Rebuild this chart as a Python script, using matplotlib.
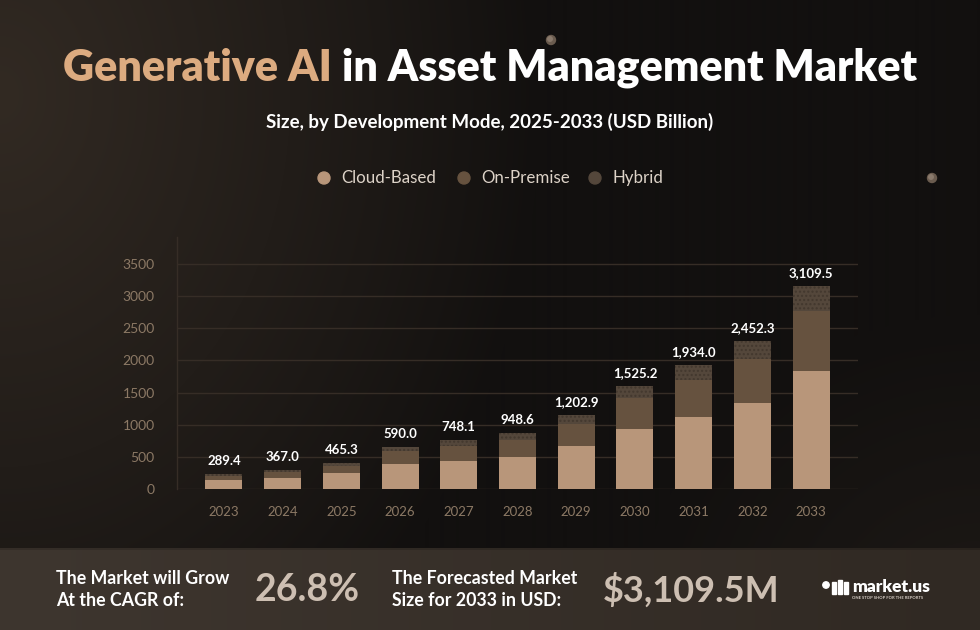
import numpy as np
import matplotlib
matplotlib.use("Agg")
import matplotlib.pyplot as plt
from matplotlib.patches import Circle, Rectangle

# ---------------- data ----------------
years = ["2023", "2024", "2025", "2026", "2027", "2028", "2029", "2030", "2031", "2032", "2033"]
cloud_based = [134, 176, 243, 383, 440, 502, 669, 938, 1125, 1342, 1840]
on_premise = [68, 93, 119, 213, 233, 260, 342, 471, 570, 674, 929]
hybrid = [31, 31, 47, 51, 89, 103, 140, 198, 238, 291, 382]
total_labels = ["289.4", "367.0", "465.3", "590.0", "748.1", "948.6",
                "1,202.9", "1,525.2", "1,934.0", "2,452.3", "3,109.5"]
y_ticks = [0, 500, 1000, 1500, 2000, 2500, 3000, 3500]
series_names = ["Cloud-Based", "On-Premise", "Hybrid"]

# ---------------- style ----------------
FONT = "Lato"
plt.rcParams["font.family"] = [FONT, "DejaVu Sans"]
c_cloud = "#b8967a"
c_onprem = "#66523f"
c_hybrid = "#54473b"
tick_col = "#8c7965"
grid_col = "#362d26"

W, H = 980, 630
fig = plt.figure(figsize=(W / 100, H / 100), dpi=100)

# ---------------- background ----------------
bg = fig.add_axes([0, 0, 1, 1], zorder=-10)
yy, xx = np.mgrid[0:H, 0:W]
xn = xx / W
yn = yy / H
dark = np.array([0x12, 0x10, 0x0f]) / 255
light = np.array([0x32, 0x2a, 0x23]) / 255
w = np.clip(1 - np.sqrt((xn / 0.55) ** 2 + ((yn - 0.15) / 1.1) ** 2), 0, 1) ** 0.9
w2 = np.clip(1 - np.sqrt(((1 - xn) / 0.35) ** 2 + ((1 - yn) / 0.5) ** 2), 0, 1) * 0.35
w = np.clip(w + w2, 0, 1)
img = dark[None, None, :] + (light - dark)[None, None, :] * w[..., None]
# footer band
fy0 = 548
fl = np.array([0x3e, 0x36, 0x2f]) / 255
fr = np.array([0x30, 0x29, 0x23]) / 255
t = (xn[fy0:, :])[..., None]
img[fy0:, :, :] = fl[None, None, :] * (1 - t) + fr[None, None, :] * t
img[fy0:fy0 + 2, :, :] *= 0.85
bg.imshow(img, extent=[0, W, H, 0], aspect="auto", interpolation="bilinear")
bg.set_xlim(0, W)
bg.set_ylim(H, 0)
bg.axis("off")

# decorative small spheres
for (cx, cy, r) in [(551, 40, 4.5), (932, 178, 4.5)]:
    bg.add_patch(Circle((cx, cy), r, color="#6b5c4f", zorder=2))
    bg.add_patch(Circle((cx - 1, cy - 1), r * 0.5, color="#8a7a6c", zorder=3))

# ---------------- main chart ----------------
left, right = 177, 858
bottom_px, top_px = 489, 237
ax = fig.add_axes([left / W, 1 - bottom_px / H, (right - left) / W, (bottom_px - top_px) / H])
ax.set_facecolor("none")
x = np.arange(len(years))
ymax = 3500 * (bottom_px - top_px) / (489 - 264)
ax.set_ylim(0, ymax)
ax.set_xlim(-0.8, len(years) - 0.2)
bw = 0.63

ax.bar(x, cloud_based, width=bw, color=c_cloud, zorder=3, linewidth=0)
ax.bar(x, on_premise, width=bw, bottom=cloud_based, color=c_onprem, zorder=3, linewidth=0)
bot3 = [a + b for a, b in zip(cloud_based, on_premise)]
ax.bar(x, hybrid, width=bw, bottom=bot3, color=c_hybrid, zorder=3,
       edgecolor="#43382e", linewidth=0, hatch="....")

tops = [a + b for a, b in zip(bot3, hybrid)]
for xi, tp, lab in zip(x, tops, total_labels):
    ax.annotate(lab, (xi, tp), xytext=(0, 5), textcoords="offset points",
                ha="center", va="bottom", color="white", fontsize=9.5,
                fontweight="bold", zorder=5)

ax.set_yticks(y_ticks)
ax.set_yticklabels([str(v) for v in y_ticks])
ax.set_xticks(x)
ax.set_xticklabels(years)
ax.tick_params(axis="y", length=0, pad=16, labelsize=10, labelcolor=tick_col)
ax.tick_params(axis="x", length=0, pad=12, labelsize=9.5, labelcolor=tick_col)
ax.grid(axis="y", color=grid_col, linewidth=1, zorder=0)
ax.set_axisbelow(True)
for s in ["top", "right", "bottom"]:
    ax.spines[s].set_visible(False)
ax.spines["left"].set_color(grid_col)
ax.spines["left"].set_linewidth(1)

# ---------------- titles ----------------
def fx(px):
    return px / W

def fy(py):
    return 1 - py / H

renderer = fig.canvas.get_renderer()
t1 = fig.text(0, fy(68), "Generative AI", color="#dcab80", fontsize=31,
              fontweight="heavy", va="center", ha="left")
t2 = fig.text(0, fy(68), " in Asset Management Market", color="white", fontsize=31,
              fontweight="heavy", va="center", ha="left")
w1 = t1.get_window_extent(renderer).width
w2_ = t2.get_window_extent(renderer).width
start = (W - (w1 + w2_)) / 2
t1.set_x(fx(start))
t2.set_x(fx(start + w1))

fig.text(0.5, fy(122), "Size, by Development Mode, 2025-2033 (USD Billion)",
         color="white", fontsize=13.5, fontweight="bold", ha="center", va="center")

# legend
leg_cols = [c_cloud, c_onprem, c_hybrid]
leg_x = [324, 464, 595]
for lx, col, name in zip(leg_x, leg_cols, series_names):
    bg.add_patch(Circle((lx, 178), 6, color=col, zorder=4))
    fig.text(fx(lx + 17), fy(178), name, color="#ddd3c8", fontsize=12.2,
             ha="left", va="center")

# ---------------- footer ----------------
fs_small = 12.8
fig.text(fx(56), fy(578), "The Market will Grow", color="white", fontsize=fs_small,
         fontweight="bold", ha="left", va="center")
fig.text(fx(56), fy(600), "At the CAGR of:", color="white", fontsize=fs_small,
         fontweight="bold", ha="left", va="center")
fig.text(fx(255), fy(590), "26.8%", color="#cdbfb2", fontsize=27,
         fontweight="bold", ha="left", va="center")
fig.text(fx(392), fy(578), "The Forecasted Market", color="white", fontsize=fs_small,
         fontweight="bold", ha="left", va="center")
fig.text(fx(392), fy(600), "Size for 2033 in USD:", color="white", fontsize=fs_small,
         fontweight="bold", ha="left", va="center")
fig.text(fx(603), fy(590), "$3,109.5M", color="#cdbfb2", fontsize=26,
         fontweight="bold", ha="left", va="center")

# logo
bg.add_patch(Circle((826, 585), 3.2, color="white", zorder=4))
bg.add_patch(Rectangle((832, 582), 3.5, 12, color="white", zorder=4))
bg.add_patch(Rectangle((838, 580), 3.5, 14, color="white", zorder=4))
bg.add_patch(Rectangle((844, 582), 3.5, 12, color="white", zorder=4))
fig.text(fx(852), fy(587), "market.us", color="white", fontsize=12.5,
         fontweight="heavy", ha="left", va="center")
fig.text(fx(852), fy(598), "ONE STOP SHOP FOR THE REPORTS", color="#d8d0c8",
         fontsize=3, fontweight="bold", ha="left", va="center")

fig.savefig("out.png", dpi=100)
